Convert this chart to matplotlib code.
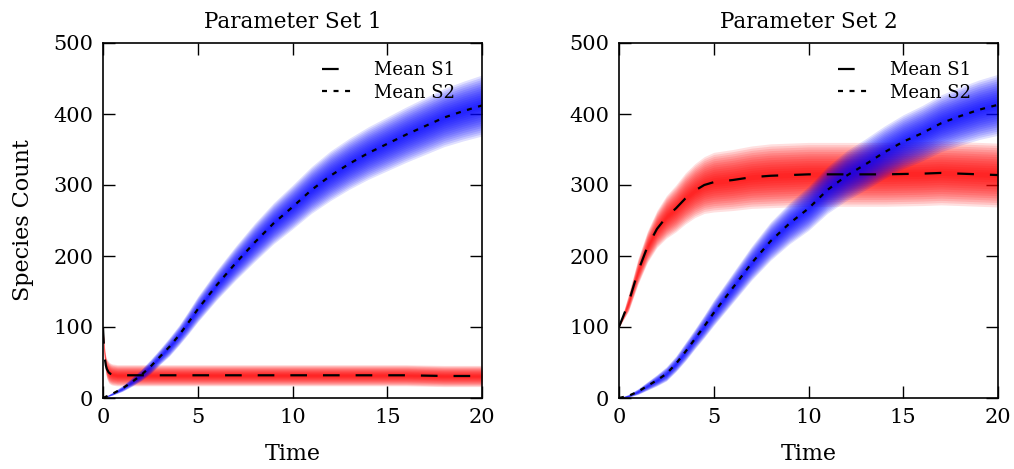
import numpy as np
import matplotlib
matplotlib.use("Agg")
import matplotlib.pyplot as plt

plt.rcParams['font.family'] = ['DejaVu Serif']
plt.rcParams['lines.scale_dashes'] = False

# ---------------- data ----------------
# Parameter Set 1, species S1 (red)
t_s1_p1 = [0, 0.05, 0.1, 0.15, 0.2, 0.3, 0.4, 0.5, 0.75, 1, 2, 4, 6, 8, 10, 12, 14, 16, 18, 20]
mean_s1_p1 = [100, 72, 55, 46, 41, 36, 34, 33, 32, 32, 32, 32, 32, 32, 32, 32, 32, 32, 31, 31]
spread_s1_p1 = [2, 10, 12, 13, 14, 15, 15, 15, 15, 15, 15, 15, 15, 15, 15, 15, 15, 15, 15, 15]

# Parameter Set 1, species S2 (blue)
t_s2 = [0, 0.5, 1, 1.5, 2, 2.5, 3, 3.5, 4, 4.5, 5, 6, 7, 8, 9, 10, 11, 12, 13, 14, 15, 16, 17, 18, 19, 20]
mean_s2_p1 = [0, 6, 13, 22, 32, 44, 58, 72, 88, 106, 125, 159, 190, 219, 246, 269, 293, 313, 330, 345, 358, 371, 383, 395, 404, 412]
spread_s2_p1 = [0, 2, 4, 6, 8, 10, 11, 13, 14, 16, 18, 21, 24, 27, 29, 31, 33, 35, 36, 37, 38, 39, 40, 41, 42, 43]

# Parameter Set 2, species S1 (red)
t_s1_p2 = [0, 0.5, 1, 1.5, 2, 2.5, 3, 3.5, 4, 4.5, 5, 6, 7, 8, 10, 12, 14, 16, 17, 18, 20]
mean_s1_p2 = [100, 134, 178, 213, 238, 255, 267, 281, 292, 300, 304, 307, 311, 313, 315, 315, 315, 316, 317, 316, 314]
spread_s1_p2 = [0, 12, 18, 22, 26, 30, 33, 36, 38, 40, 42, 43, 44, 45, 45, 45, 45, 45, 45, 45, 45]

# Parameter Set 2, species S2 (blue)
mean_s2_p2 = [0, 3, 9, 17, 25, 34, 48, 65, 83, 101, 120, 155, 190, 221, 246, 267, 293, 313, 329, 346, 361, 373, 387, 397, 406, 413]
spread_s2_p2 = [0, 2, 4, 6, 8, 10, 11, 13, 14, 16, 18, 21, 24, 27, 29, 31, 33, 35, 36, 37, 38, 39, 40, 41, 42, 43]

titles = ["Parameter Set 1", "Parameter Set 2"]
x_ticks = [0, 5, 10, 15, 20]
y_ticks = [0, 100, 200, 300, 400, 500]

# ---------------- drawing ----------------
fig = plt.figure(figsize=(10.14, 4.69), dpi=100)
ax1 = fig.add_axes([103 / 1014, 71 / 469, 379 / 1014, 355 / 469])
ax2 = fig.add_axes([619 / 1014, 71 / 469, 379 / 1014, 355 / 469])

fracs = np.linspace(1.0, 0.08, 14)


def band(ax, t, mean, spread, color):
    t = np.asarray(t, float)
    m = np.asarray(mean, float)
    s = np.asarray(spread, float)
    for frac in fracs:
        ax.fill_between(t, m - frac * s, m + frac * s, color=color, alpha=0.12,
                        linewidth=0, zorder=2)


data = [
    (t_s1_p1, mean_s1_p1, spread_s1_p1, t_s2, mean_s2_p1, spread_s2_p1),
    (t_s1_p2, mean_s1_p2, spread_s1_p2, t_s2, mean_s2_p2, spread_s2_p2),
]

for ax, title, (ta, ma, sa, tb, mb, sb) in zip([ax1, ax2], titles, data):
    band(ax, ta, ma, sa, '#ff0000')
    band(ax, tb, mb, sb, '#0000ff')
    l1, = ax.plot(ta, ma, color='black', lw=1.6, zorder=5, label='Mean S1')
    l1.set_dashes([12, 11.5])
    l2, = ax.plot(tb, mb, color='black', lw=1.6, zorder=5, label='Mean S2')
    l2.set_dashes([3.6, 4.7])
    ax.set_xlim(0, 20)
    ax.set_ylim(0, 500)
    ax.set_xticks(x_ticks)
    ax.set_yticks(y_ticks)
    ax.tick_params(direction='in', top=True, right=True, length=8.5, width=1,
                   labelsize=15, pad=7)
    for sp in ax.spines.values():
        sp.set_linewidth(1.2)
    ax.set_title(title, fontsize=15.5, pad=11)
    ax.set_xlabel('Time', fontsize=16, labelpad=12)
    ax.legend(loc='upper right', frameon=False, fontsize=13,
              handlelength=1.65, handletextpad=1.25, labelspacing=0.25,
              borderaxespad=0.6, bbox_to_anchor=(0.978, 1.0))

ax1.set_ylabel('Species Count', fontsize=16, labelpad=14)

fig.savefig('out.png', dpi=100)
